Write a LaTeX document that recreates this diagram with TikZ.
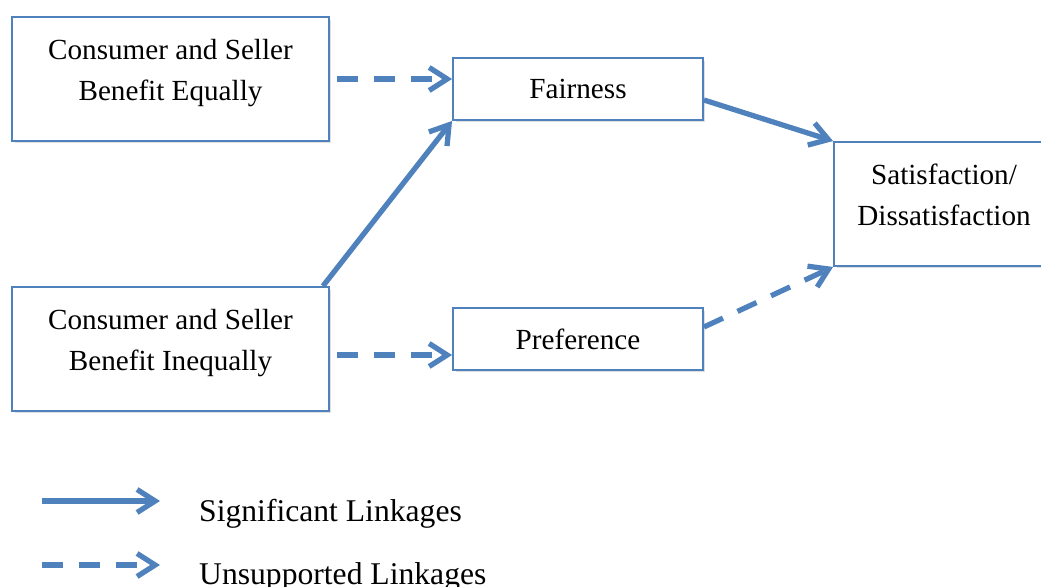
\documentclass[tikz,border=0pt]{standalone}
\usepackage{fontspec}
\setmainfont{Liberation Serif}
\usepackage{tikz}
\usetikzlibrary{arrows.meta,shadows}
\definecolor{linkblue}{HTML}{4F81BD}
\tikzset{
  box/.style = {draw=linkblue, line width=1.1pt, fill=white, align=center,
    font=\fontsize{16.6}{23.2}\selectfont,
    drop shadow={opacity=.25, shadow xshift=.5mm, shadow yshift=-.5mm}},
  twoline/.style = {box, text depth=10.5pt},
  solidlink/.style = {draw=linkblue, line width=3pt,
    -{Straight Barb[length=3.6mm,width=4.6mm]}},
  dashlink/.style = {solidlink, dash pattern=on 4.2mm off 3.2mm}
}
\begin{document}
\begin{tikzpicture}[x=0.02cm, y=-0.02cm]
\useasboundingbox (0,0) rectangle (1041,587);
\node[twoline, minimum width=6.34cm, minimum height=2.48cm] (eq) at (170.5,79) {Consumer and Seller\\Benefit Equally};
\node[twoline, minimum width=6.34cm, minimum height=2.48cm] (ineq) at (170.5,349) {Consumer and Seller\\Benefit Inequally};
\node[box, minimum width=5cm, minimum height=1.24cm] (fair) at (578,89) {Fairness};
\node[box, minimum width=5cm, minimum height=1.24cm] (pref) at (578,339) {Preference};
\node[twoline, minimum width=4.4cm, minimum height=2.48cm] (sat) at (944,204) {Satisfaction/\\Dissatisfaction};
%
%
\coordinate (a1) at ([xshift=1.4mm]eq.east);
\coordinate (b1) at ([xshift=1.4mm, yshift=-1.2mm]ineq.east);
\draw[dashlink] (a1) -- (a1 -| fair.west);
\draw[dashlink] (b1) -- (b1 -| pref.west);
\draw[solidlink] ([xshift=-1.4mm]ineq.north east) -- (fair.south west);
\draw[solidlink] ([yshift=-2.2mm]fair.east) -- (sat.north west);
\draw[dashlink] ([yshift=2.4mm]pref.east) -- (sat.south west);
%
%
\coordinate (s1) at (42,501);
\coordinate (s2) at (160,501);
\coordinate (u1) at (42,565);
\coordinate (u2) at (160,565);
\draw[solidlink] (s1) -- (s2);
\draw[dashlink] (u1) -- (u2);
\node[anchor=base west, font=\fontsize{18}{22}\selectfont] (sig) at (193,521) {Significant Linkages};
\node[anchor=base west, font=\fontsize{18}{22}\selectfont] (uns) at (193,584) {Unsupported Linkages};
\end{tikzpicture}
\end{document}
